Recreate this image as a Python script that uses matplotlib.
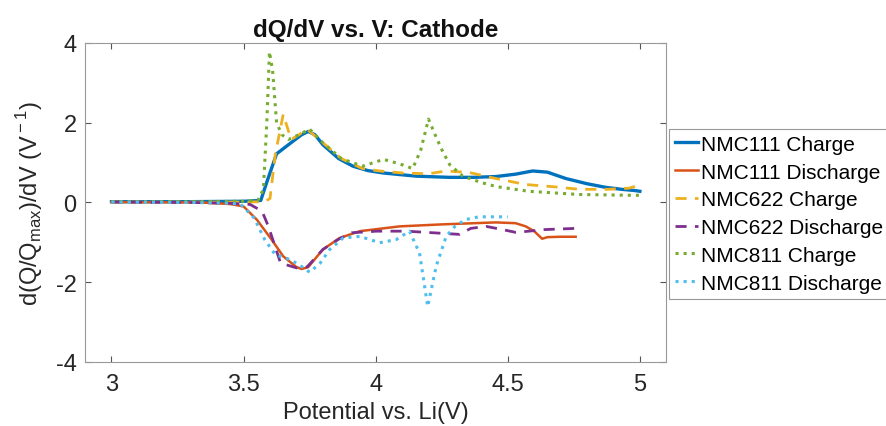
import matplotlib.pyplot as plt
import numpy as np

plt.rcParams['font.family'] = ['Liberation Sans', 'DejaVu Sans']
plt.rcParams['axes.unicode_minus'] = False
plt.rcParams['mathtext.fontset'] = 'custom'
plt.rcParams['mathtext.rm'] = 'Liberation Sans'

# NMC111 charge
v111c = [3.0, 3.3, 3.5, 3.565, 3.59, 3.625, 3.68, 3.72, 3.745, 3.77, 3.8, 3.86, 3.914, 3.97, 4.028, 4.153, 4.279, 4.37, 4.455, 4.53, 4.594, 4.65, 4.72, 4.80, 4.87, 4.93, 4.98, 5.0]
d111c = [0.02, 0.02, 0.03, 0.05, 0.55, 1.22, 1.5, 1.7, 1.78, 1.7, 1.45, 1.1, 0.91, 0.80, 0.74, 0.66, 0.63, 0.63, 0.65, 0.71, 0.79, 0.76, 0.6, 0.47, 0.38, 0.33, 0.3, 0.28]

# NMC111 discharge
v111d = [3.0, 3.336, 3.45, 3.50, 3.55, 3.606, 3.65, 3.70, 3.72, 3.745, 3.80, 3.864, 3.94, 4.09, 4.25, 4.455, 4.53, 4.568, 4.60, 4.63, 4.65, 4.70, 4.757]
d111d = [0.01, 0.0, -0.04, -0.1, -0.43, -0.93, -1.35, -1.62, -1.67, -1.62, -1.18, -0.89, -0.72, -0.6, -0.55, -0.5, -0.52, -0.6, -0.72, -0.91, -0.87, -0.86, -0.86]

# NMC622 charge
v622c = [3.0, 3.3, 3.5, 3.58, 3.60, 3.62, 3.65, 3.68, 3.71, 3.74, 3.80, 3.87, 3.95, 4.015, 4.1, 4.2, 4.267, 4.355, 4.455, 4.568, 4.68, 4.77, 4.88, 4.96, 4.99, 5.0]
d622c = [0.01, 0.01, 0.01, 0.02, 0.1, 1.2, 2.21, 1.58, 1.7, 1.84, 1.5, 1.1, 0.85, 0.79, 0.74, 0.72, 0.79, 0.75, 0.6, 0.45, 0.39, 0.33, 0.33, 0.36, 0.42, 0.47]

# NMC622 discharge
v622d = [3.0, 3.3, 3.45, 3.525, 3.57, 3.594, 3.64, 3.70, 3.74, 3.80, 3.86, 3.91, 4.003, 4.116, 4.217, 4.317, 4.36, 4.418, 4.48, 4.53, 4.58, 4.64, 4.757]
d622d = [0.01, 0.0, -0.02, -0.05, -0.22, -0.6, -1.52, -1.64, -1.62, -1.18, -0.92, -0.76, -0.72, -0.72, -0.76, -0.8, -0.65, -0.6, -0.68, -0.75, -0.72, -0.68, -0.65]

# NMC811 charge
v811c = [3.0, 3.3, 3.5, 3.555, 3.575, 3.588, 3.598, 3.61, 3.625, 3.645, 3.67, 3.71, 3.75, 3.80, 3.87, 3.95, 4.03, 4.09, 4.14, 4.17, 4.20, 4.225, 4.25, 4.28, 4.33, 4.40, 4.455, 4.58, 4.77, 4.97, 5.0]
d811c = [0.02, 0.02, 0.03, 0.06, 0.33, 2.0, 3.78, 3.3, 2.0, 1.7, 1.58, 1.7, 1.84, 1.5, 1.1, 0.91, 1.08, 0.97, 0.85, 1.3, 2.09, 1.7, 1.33, 0.95, 0.66, 0.5, 0.4, 0.28, 0.2, 0.18, 0.18]

# NMC811 discharge
v811d = [3.0, 3.3, 3.45, 3.49, 3.54, 3.58, 3.62, 3.675, 3.71, 3.75, 3.79, 3.826, 3.877, 3.94, 4.015, 4.078, 4.128, 4.166, 4.197, 4.229, 4.267, 4.30, 4.34, 4.39, 4.45, 4.5]
d811d = [0.01, 0.0, -0.02, -0.05, -0.39, -0.93, -1.31, -1.43, -1.56, -1.75, -1.52, -1.18, -0.89, -0.85, -1.01, -0.93, -0.72, -1.27, -2.61, -1.6, -0.85, -0.6, -0.43, -0.36, -0.36, -0.36]

fig = plt.figure(figsize=(8.86, 4.27), dpi=100)
ax = fig.add_axes([0.096, 0.150, 0.656, 0.747])

ax.plot(v111c, d111c, '-', color='#0072BD', lw=2.4, label='NMC111 Charge')
ax.plot(v111d, d111d, '-', color='#D95319', lw=1.8, label='NMC111 Discharge')
ax.plot(v622c, d622c, '--', color='#EDB120', lw=2.0, dashes=(4, 3), label='NMC622 Charge')
ax.plot(v622d, d622d, '--', color='#7E2F8E', lw=2.0, dashes=(4, 3), label='NMC622 Discharge')
ax.plot(v811c, d811c, ':', color='#77AC30', lw=2.2, label='NMC811 Charge')
ax.plot(v811d, d811d, ':', color='#4DBEEE', lw=2.2, label='NMC811 Discharge')

ax.set_xlim(2.9, 5.1)
ax.set_ylim(-4, 4)
ax.set_xticks([3, 3.5, 4, 4.5, 5])
ax.set_xticklabels(['3', '3.5', '4', '4.5', '5'])
ax.set_yticks([-4, -2, 0, 2, 4])
ax.tick_params(direction='in', top=True, right=True, length=4, width=0.8,
               color='#555555', labelcolor='#262626', labelsize=17)
ax.tick_params(axis='x', pad=8)
ax.tick_params(axis='y', pad=6)
for s in ax.spines.values():
    s.set_color('#999999')
    s.set_linewidth(0.8)

ax.set_title('dQ/dV vs. V: Cathode', fontsize=17.5, fontweight='bold', color='#111111', pad=5)
ax.set_xlabel('Potential vs. Li(V)', fontsize=17, color='#262626', labelpad=4)
ax.set_ylabel(r'd(Q/Q$_{\rm max}$)/dV (V$^{\rm -1}$)', fontsize=17, color='#262626', labelpad=8)

leg = ax.legend(loc='center left', bbox_to_anchor=(1.005, 0.465), fontsize=15,
                handlelength=1.1, handletextpad=0.15, borderpad=0.3, labelspacing=0.42,
                fancybox=False, framealpha=1, borderaxespad=0)
leg.get_frame().set_edgecolor('#999999')
leg.get_frame().set_linewidth(0.8)

fig.savefig('out.png', dpi=100)
